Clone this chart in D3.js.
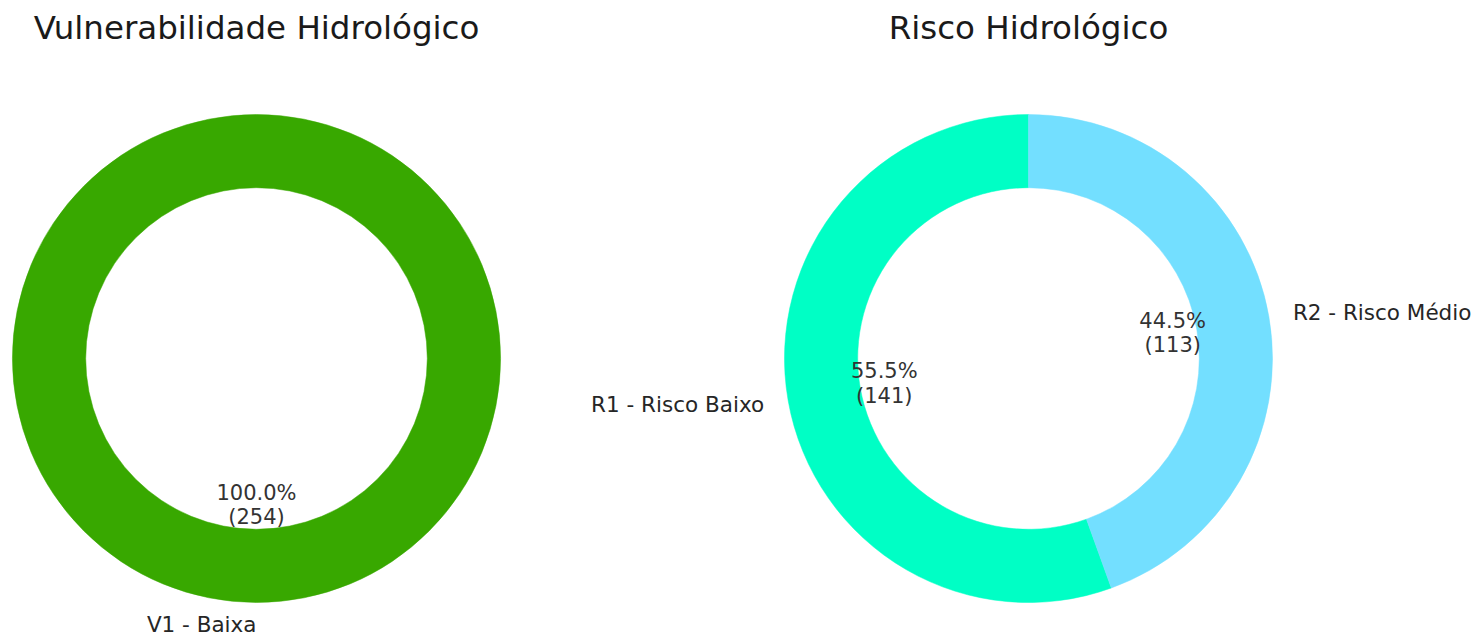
<!DOCTYPE html>
<html lang="pt">
<head>
<meta charset="UTF-8">
<title>Vulnerabilidade e Risco Hidrológico</title>
<script src="https://d3js.org/d3.v7.min.js"></script>
<style>
    body { margin: 0; background: #fff; font-family: "DejaVu Sans", sans-serif; }
    svg { display: block; }
</style>
</head>
<body>
<div id="chart"></div>
<script>
// Dados
const vulnTitle = "Vulnerabilidade Hidrológico";
const vulnLabels = ["V1 - Baixa"];
const vulnValues = [254];
const vulnColors = ["#38A800"];

const riscoTitle = "Risco Hidrológico";
const riscoLabels = ["R1 - Risco Baixo", "R2 - Risco Médio"];
const riscoValues = [141, 113];
const riscoColors = ["#00FFC5", "#73DFFF"];

const W = 1479, H = 637;
const svg = d3.select("#chart").append("svg")
    .attr("width", W)
    .attr("height", H);

// desenha um donut (estilo matplotlib: início às 12h, sentido anti-horário)
function drawDonut(cx, cy, radius, title, labels, values, colors) {
    const g = svg.append("g").attr("transform", `translate(${cx},${cy})`);
    const total = d3.sum(values);
    const data = labels.map((l, i) => ({ label: l, value: values[i], color: colors[i] }));

    const pie = d3.pie().value(d => d.value).sort(null)
        .startAngle(0).endAngle(-2 * Math.PI);
    const arc = d3.arc().innerRadius(radius * 0.7).outerRadius(radius);
    const arcs = pie(data);

    g.selectAll("path.slice")
        .data(arcs)
        .enter()
        .append("path")
        .attr("class", "slice")
        .attr("d", d => arc({ startAngle: Math.min(d.startAngle, d.endAngle), endAngle: Math.max(d.startAngle, d.endAngle) }))
        .attr("fill", d => d.data.color)
        .attr("stroke", d => d.data.color)
        .attr("stroke-width", 0.5);

    const mid = d => (d.startAngle + d.endAngle) / 2;

    // rótulos externos (mantidos dentro da área visível)
    g.selectAll("text.lbl")
        .data(arcs)
        .enter()
        .append("text")
        .attr("class", "lbl")
        .attr("x", d => radius * 1.1 * Math.sin(mid(d)))
        .attr("y", d => Math.min(-radius * 1.1 * Math.cos(mid(d)), H - cy - 13))
        .attr("dy", "0.35em")
        .attr("text-anchor", d => Math.sin(mid(d)) > 0 ? "start" : "end")
        .attr("font-size", "21.5px")
        .attr("fill", "#262626")
        .text(d => d.data.label);

    // percentuais
    const pct = g.selectAll("text.pct")
        .data(arcs)
        .enter()
        .append("text")
        .attr("class", "pct")
        .attr("text-anchor", "middle")
        .attr("font-size", "21px")
        .attr("fill", "#333")
        .attr("transform", d => `translate(${radius * 0.6 * Math.sin(mid(d))},${-radius * 0.6 * Math.cos(mid(d))})`);
    pct.append("tspan")
        .attr("x", 0).attr("dy", "-0.25em")
        .text(d => (d.data.value / total * 100).toFixed(1) + "%");
    pct.append("tspan")
        .attr("x", 0).attr("dy", "1.15em")
        .text(d => `(${d.data.value})`);

    // título
    svg.append("text")
        .attr("x", cx)
        .attr("y", 39)
        .attr("text-anchor", "middle")
        .attr("font-size", "32.5px")
        .attr("fill", "#1a1a1a")
        .text(title);
}

drawDonut(256.5, 358.5, 244, vulnTitle, vulnLabels, vulnValues, vulnColors);
drawDonut(1028.5, 358.5, 244, riscoTitle, riscoLabels, riscoValues, riscoColors);
</script>
</body>
</html>
